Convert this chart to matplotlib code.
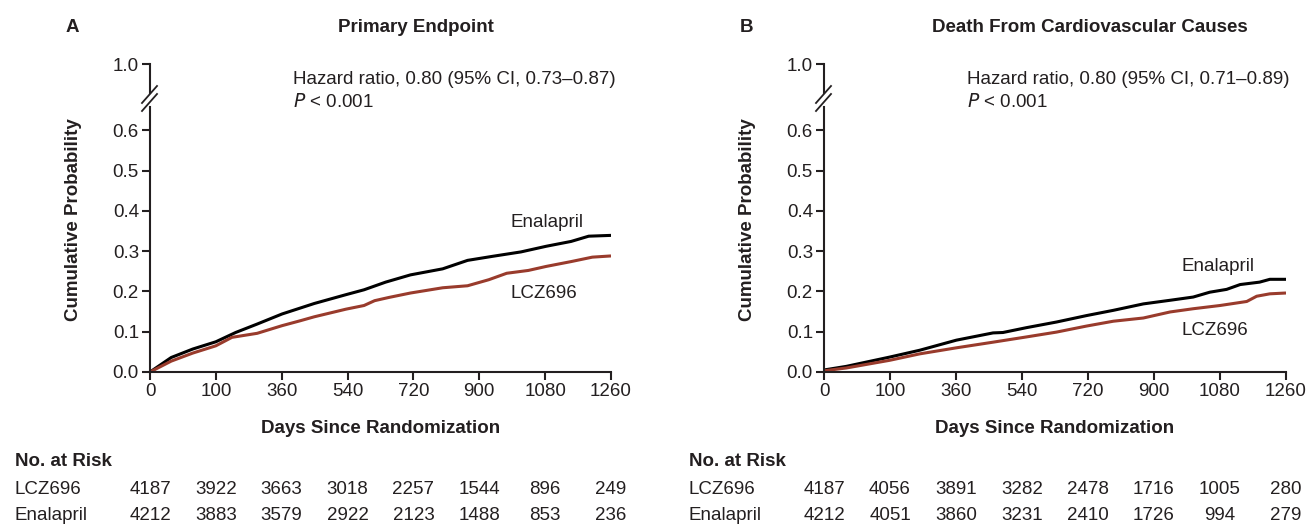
"""
Kaplan-Meier style cumulative incidence, LCZ696 vs enalapril (two panels).
"""

import matplotlib.pyplot as plt
from matplotlib.lines import Line2D

plt.rcParams["font.family"] = ["Liberation Sans", "DejaVu Sans"]

INK = "#231f20"
RED = "#993b2c"

# ---- data ----
tick_days = [0, 180, 360, 540, 720, 900, 1080, 1260]
tick_labels = ["0", "100", "360", "540", "720", "900", "1080", "1260"]

# Panel A: primary endpoint
a_enal_days = [0, 58, 117, 180, 234, 293, 361, 449, 536, 585, 644, 712, 800,
               868, 936, 1014, 1083, 1151, 1199, 1260]
a_enal_prob = [0.0, 0.036, 0.057, 0.075, 0.098, 0.119, 0.144, 0.170, 0.192,
               0.204, 0.223, 0.241, 0.256, 0.277, 0.287, 0.298, 0.312, 0.324,
               0.337, 0.339]
a_lcz_days = [0, 58, 117, 180, 224, 293, 361, 410, 449, 536, 585, 614, 653,
              712, 800, 868, 926, 975, 1034, 1083, 1151, 1209, 1260]
a_lcz_prob = [0.0, 0.027, 0.047, 0.065, 0.086, 0.096, 0.115, 0.127, 0.137,
              0.156, 0.165, 0.177, 0.185, 0.196, 0.209, 0.214, 0.229, 0.245,
              0.252, 0.262, 0.274, 0.285, 0.288]

# Panel B: death from cardiovascular causes
b_enal_days = [0, 61, 179, 261, 361, 461, 488, 552, 634, 716, 789, 871, 944,
               1007, 1052, 1098, 1135, 1188, 1216, 1260]
b_enal_prob = [0.005, 0.014, 0.037, 0.054, 0.079, 0.097, 0.098, 0.110, 0.124,
               0.140, 0.153, 0.169, 0.178, 0.186, 0.198, 0.205, 0.217, 0.223,
               0.230, 0.230]
b_lcz_days = [0, 61, 179, 261, 361, 461, 552, 634, 716, 789, 871, 944, 1007,
              1080, 1153, 1180, 1216, 1260]
b_lcz_prob = [0.003, 0.010, 0.029, 0.045, 0.060, 0.074, 0.087, 0.099, 0.114,
              0.126, 0.134, 0.149, 0.157, 0.165, 0.175, 0.188, 0.194, 0.196]

a_risk_lcz = [4187, 3922, 3663, 3018, 2257, 1544, 896, 249]
a_risk_enal = [4212, 3883, 3579, 2922, 2123, 1488, 853, 236]
b_risk_lcz = [4187, 4056, 3891, 3282, 2478, 1716, 1005, 280]
b_risk_enal = [4212, 4051, 3860, 3231, 2410, 1726, 994, 279]

W, H = 1309, 525
fig = plt.figure(figsize=(W / 100, H / 100), dpi=100)


def fx(px):
    return px / W


def fy(py):
    return 1 - py / H


PX_PER_UNIT = 403.0  # pixels per probability unit on the lower axis


def panel(left, right, letter, title, hr_text, enal, lcz, risk, label_pos):
    # lower (main) axis
    bottom, top = 372, 107
    ax = fig.add_axes([fx(left), fy(bottom), fx(right) - fx(left),
                       (bottom - top) / H])
    ax.plot(enal[0], enal[1], color="black", lw=2.2, solid_capstyle="butt")
    ax.plot(lcz[0], lcz[1], color=RED, lw=2.2, solid_capstyle="butt")
    ax.set_xlim(0, 1260)
    ax.set_ylim(0, (bottom - top) / PX_PER_UNIT)
    ax.set_xticks(tick_days, tick_labels)
    ax.set_yticks([0.0, 0.1, 0.2, 0.3, 0.4, 0.5, 0.6])
    ax.set_yticklabels([f"{v:.1f}" for v in ax.get_yticks()])
    for s in ["top", "right"]:
        ax.spines[s].set_visible(False)
    for s in ["left", "bottom"]:
        ax.spines[s].set_color(INK)
        ax.spines[s].set_linewidth(1.5)
    ax.tick_params(direction="out", length=6, width=1.5, color=INK,
                   labelcolor=INK, labelsize=13.5, pad=2)
    ax.set_xlabel("Days Since Randomization", fontsize=13.5,
                  fontweight="bold", color=INK, labelpad=14)

    # curve labels
    ax.text(label_pos[0], label_pos[1], "Enalapril", fontsize=13.5, color=INK,
            va="center")
    ax.text(label_pos[0], label_pos[2], "LCZ696", fontsize=13.5, color=INK,
            va="center")

    # upper stub showing 1.0
    up_top, up_bot = 64, 93
    ax2 = fig.add_axes([fx(left), fy(up_bot), fx(right) - fx(left),
                        (up_bot - up_top) / H])
    ax2.set_xlim(0, 1260)
    ax2.set_ylim(1 - (up_bot - up_top) / PX_PER_UNIT, 1.0)
    ax2.set_yticks([1.0], ["1.0"])
    ax2.set_xticks([])
    for s in ["top", "right", "bottom"]:
        ax2.spines[s].set_visible(False)
    ax2.spines["left"].set_color(INK)
    ax2.spines["left"].set_linewidth(1.5)
    ax2.tick_params(direction="out", length=6, width=1.5, color=INK,
                    labelcolor=INK, labelsize=13.5, pad=2)
    ax2.patch.set_alpha(0)

    # break marks
    for dy in (0, 8):
        fig.add_artist(Line2D([fx(left - 8), fx(left + 7)],
                              [fy(103 + dy), fy(86 + dy)],
                              color=INK, lw=1.3))

    fig.text(fx(left - 84), fy(27), letter, fontsize=13.5, fontweight="bold",
             color=INK, ha="left", va="center")
    fig.text(fx((left + right) / 2 + 35), fy(27), title, fontsize=13.5,
             fontweight="bold", color=INK, ha="center", va="center")
    fig.text(fx(left - 76), fy(220), "Cumulative Probability", fontsize=13.5,
             fontweight="bold", color=INK, ha="center", va="center",
             rotation=90)

    fig.text(fx(left + 143), fy(79), hr_text, fontsize=13.5, color=INK,
             ha="left", va="center")
    fig.text(fx(left + 143), fy(102), r"$\it{P}$ < 0.001", fontsize=13.5,
             color=INK, ha="left", va="center")

    # number at risk table
    fig.text(fx(left - 135), fy(462), "No. at Risk", fontsize=13.5,
             fontweight="bold", color=INK, ha="left", va="center")
    for name, row, y in (("LCZ696", risk[0], 489), ("Enalapril", risk[1], 515)):
        fig.text(fx(left - 135), fy(y), name, fontsize=13.5, color=INK,
                 ha="left", va="center")
        for d, n in zip(tick_days, row):
            xpx = left + d / 1260 * (right - left)
            fig.text(fx(xpx), fy(y), str(n), fontsize=13.5, color=INK,
                     ha="center", va="center")


panel(150, 611, "A", "Primary Endpoint",
      "Hazard ratio, 0.80 (95% CI, 0.73\u20130.87)",
      (a_enal_days, a_enal_prob), (a_lcz_days, a_lcz_prob),
      (a_risk_lcz, a_risk_enal), (984, 0.372, 0.194))
panel(824, 1286, "B", "Death From Cardiovascular Causes",
      "Hazard ratio, 0.80 (95% CI, 0.71\u20130.89)",
      (b_enal_days, b_enal_prob), (b_lcz_days, b_lcz_prob),
      (b_risk_lcz, b_risk_enal), (976, 0.262, 0.102))

fig.savefig("out.png", dpi=100)
